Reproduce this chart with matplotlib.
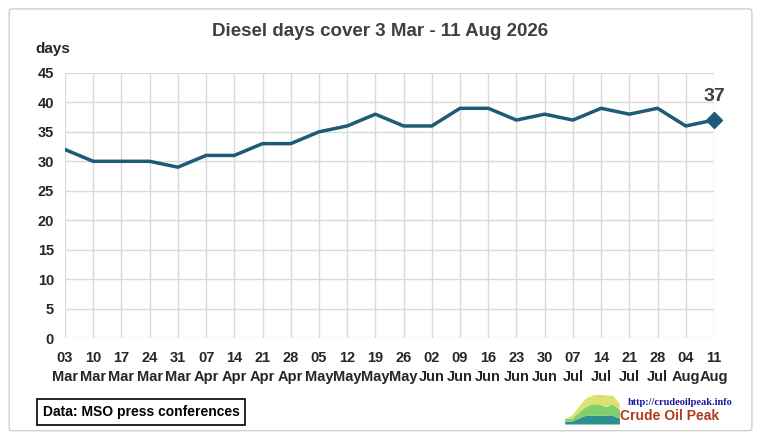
import matplotlib.pyplot as plt
from matplotlib.patches import FancyBboxPatch

days = ['03', '10', '17', '24', '31', '07', '14', '21', '28', '05', '12', '19',
        '26', '02', '09', '16', '23', '30', '07', '14', '21', '28', '04', '11']
months = ['Mar', 'Mar', 'Mar', 'Mar', 'Mar', 'Apr', 'Apr', 'Apr', 'Apr', 'May',
          'May', 'May', 'May', 'Jun', 'Jun', 'Jun', 'Jun', 'Jun', 'Jul', 'Jul',
          'Jul', 'Jul', 'Aug', 'Aug']
cover = [32, 30, 30, 30, 29, 31, 31, 33, 33, 35, 36, 38,
         36, 36, 39, 39, 37, 38, 37, 39, 38, 39, 36, 37]

# small logo graphic (stacked areas)
logo_a = [1, 1, 2, 3, 3, 3, 3, 3, 2]
logo_b = [1, 1, 2, 3, 4, 4, 3, 4, 3]
logo_c = [0, 1, 2, 3, 3, 4, 4, 3, 2]
logo_colors = ['#2e8f8f', '#7fcf6f', '#e0e070']

plt.rcParams['font.family'] = ['Liberation Sans', 'DejaVu Sans']

fig = plt.figure(figsize=(7.61, 4.44), dpi=100)
fig.patches.append(FancyBboxPatch((0.012, 0.03), 0.976, 0.95,
                                  boxstyle='round,pad=0,rounding_size=0.005',
                                  transform=fig.transFigure, fill=False,
                                  edgecolor='#d0d0d0', linewidth=1))

ax = fig.add_axes([0.0854, 0.2387, 0.8528, 0.597])
x = list(range(len(cover)))
line_color = '#1d5b79'
ax.plot(x, cover, color=line_color, linewidth=2.5)
ax.plot(x[-1], cover[-1], marker='D', markersize=8, color=line_color,
        clip_on=False)
ax.annotate(str(cover[-1]), (x[-1], cover[-1]), xytext=(0, 11),
            textcoords='offset points', ha='center', va='bottom',
            fontsize=14, fontweight='bold', color='#404040')

ax.set_xlim(0, len(cover) - 1)
ax.set_ylim(0, 45)
ax.set_yticks(range(0, 46, 5))
ax.set_xticks(x)
ax.set_xticklabels([f'{d}\n{m}' for d, m in zip(days, months)])
ax.grid(True, color='#d9d9d9', linewidth=1)
ax.set_axisbelow(True)
for s in ax.spines.values():
    s.set_visible(False)
ax.tick_params(length=0, labelsize=10.5, labelcolor='#262626')
ax.tick_params(axis='y', pad=8)
ax.tick_params(axis='x', pad=9)
for lbl in ax.get_xticklabels() + ax.get_yticklabels():
    lbl.set_fontweight('bold')
for lbl in ax.get_xticklabels():
    lbl.set_linespacing(1.5)

fig.text(0.5, 0.928, 'Diesel days cover 3 Mar - 11 Aug 2026', ha='center',
         va='center', fontsize=13.5, fontweight='bold', color='#404040')
fig.text(0.046, 0.89, 'days', ha='left', va='center', fontsize=11,
         fontweight='bold', color='#262626')

fig.text(0.056, 0.072, 'Data: MSO press conferences', ha='left', va='center',
         fontsize=10, fontweight='bold', color='#000000',
         bbox=dict(boxstyle='square,pad=0.4', facecolor='white',
                   edgecolor='black', linewidth=1.2))

# logo
lax = fig.add_axes([0.742, 0.045, 0.072, 0.065])
lx = list(range(len(logo_a)))
base = [0] * len(lx)
for vals, col in zip([logo_a, logo_b, logo_c], logo_colors):
    top = [b + v for b, v in zip(base, vals)]
    lax.fill_between(lx, base, top, color=col, linewidth=0)
    base = top
lax.set_xlim(0, len(lx) - 1)
lax.set_ylim(0, 10)
lax.axis('off')

fig.text(0.963, 0.093, 'http://crudeoilpeak.info', ha='right', va='center',
         fontsize=7.5, fontweight='bold', color='#1a1aa0', family='Liberation Serif')
fig.text(0.815, 0.062, 'Crude Oil Peak', ha='left', va='center',
         fontsize=10, fontweight='bold', color='#b03a1a')

fig.savefig('out.png', dpi=100)
